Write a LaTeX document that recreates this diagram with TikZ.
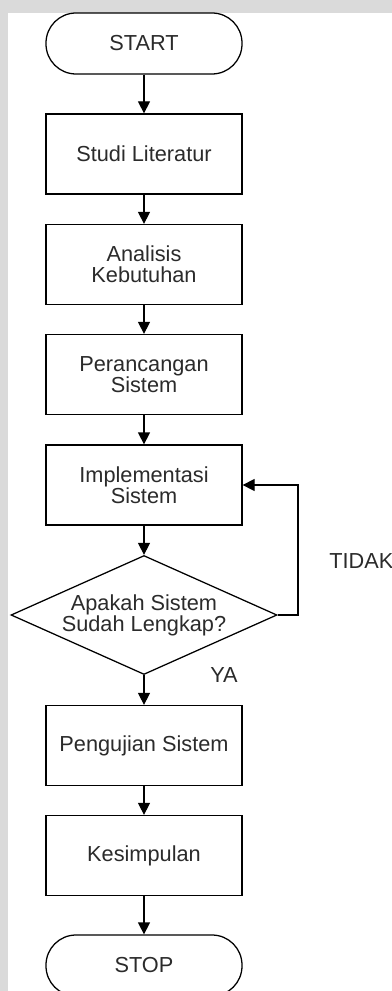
\documentclass[tikz,border=0pt]{standalone}
\usepackage{fontspec}
\setmainfont{Liberation Sans}
\usetikzlibrary{shapes.geometric,arrows.meta}
\definecolor{bggray}{HTML}{DADADA}
\definecolor{ink}{HTML}{2B2B2B}
\tikzset{
  base/.style={draw=black, line width=0.95pt, text=ink, inner sep=0pt,
    align=center, font=\fontsize{16.3}{15.8}\selectfont},
  terminal/.style={base, rectangle, rounded corners=22.5pt,
    minimum width=147pt, minimum height=45.75pt},
  procbox/.style={base, rectangle, minimum width=147pt, minimum height=60pt},
  decision/.style={base, diamond, aspect=2.24,
    minimum width=199.5pt, minimum height=89.25pt},
  arr/.style={draw=black, line width=0.95pt,
    -{Triangle[width=9pt,length=9pt]}},
  lbl/.style={text=ink, inner sep=0pt, anchor=west,
    font=\fontsize{16.3}{15.8}\selectfont}
}
\begin{document}
\begin{tikzpicture}[x=0.75pt,y=-0.75pt]
\useasboundingbox (0,0) rectangle (392,991);
\clip (0,0) rectangle (392,991);
\fill[white] (0,0) rectangle (392,991);
% grey frame along the top and left edges
\fill[bggray] (0,0) rectangle (392,13);
\fill[bggray] (0,0) rectangle (8,991);

\node[terminal] (start) at (144,43.5) {START};
\node[procbox] (studi) at (144,154) {Studi Literatur};
\node[procbox] (analisis) at (144,264.5) {Analisis\\Kebutuhan};
\node[procbox] (rancang) at (144,374.5) {Perancangan\\Sistem};
\node[procbox] (impl) at (144,485) {Implementasi\\Sistem};
\node[decision] (cek) at (144,615) {Apakah Sistem\\Sudah Lengkap?};
\node[procbox] (uji) at (144,745.5) {Pengujian Sistem};
\node[procbox] (simpul) at (144,855.5) {Kesimpulan};
\node[terminal] (stop) at (144,965.5) {STOP};

\coordinate (loopA) at (298,615);
\coordinate (loopB) at (298,485);

\draw[arr] (start) -- (studi);
\draw[arr] (studi) -- (analisis);
\draw[arr] (analisis) -- (rancang);
\draw[arr] (rancang) -- (impl);
\draw[arr] (impl) -- (cek);
\draw[arr] (cek) -- (uji);
\draw[arr] (uji) -- (simpul);
\draw[arr] (simpul) -- (stop);
\draw[arr] (cek.east) -- (loopA) -- (loopB) -- (impl.east);

\node[lbl] (tidak) at (329,561) {TIDAK};
\node[lbl] (ya) at (210,675) {YA};
\end{tikzpicture}
\end{document}
